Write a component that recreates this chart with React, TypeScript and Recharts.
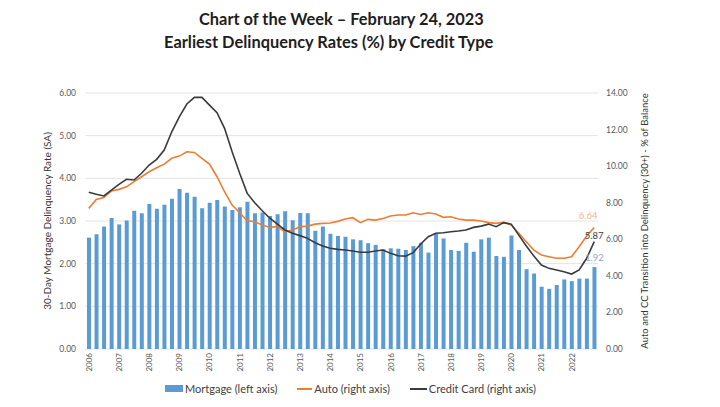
import {
  ComposedChart,
  Bar,
  Line,
  XAxis,
  YAxis,
  CartesianGrid,
  LabelList
} from 'recharts';

const years = [2006, 2007, 2008, 2009, 2010, 2011, 2012, 2013, 2014, 2015, 2016, 2017, 2018, 2019, 2020, 2021, 2022];
const quarterNames = ['Q1', 'Q2', 'Q3', 'Q4'];
const quarters = years.flatMap((y) => quarterNames.map((q) => `${y} ${q}`));

// 30-day mortgage delinquency rate, left axis
const mortgage = [
  2.61, 2.69, 2.87, 3.07, 2.92, 3.01, 3.24, 3.18, 3.40, 3.29, 3.38, 3.52,
  3.75, 3.66, 3.57, 3.30, 3.43, 3.49, 3.34, 3.26, 3.32, 3.45, 3.18, 3.20,
  3.12, 3.16, 3.23, 3.02, 3.19, 3.18, 2.77, 2.87, 2.70, 2.65, 2.63, 2.57,
  2.55, 2.48, 2.44, 2.34, 2.36, 2.35, 2.32, 2.41, 2.49, 2.26, 2.71, 2.59,
  2.32, 2.30, 2.49, 2.28, 2.57, 2.61, 2.18, 2.16, 2.66, 2.32, 1.87, 1.77,
  1.46, 1.41, 1.50, 1.63, 1.59, 1.65, 1.65, 1.92
];

// auto transition into delinquency, right axis
const auto = [
  7.69, 8.18, 8.29, 8.64, 8.73, 8.87, 9.15, 9.42, 9.69, 9.91, 10.11, 10.43,
  10.55, 10.79, 10.75, 10.43, 10.11, 9.42, 8.60, 7.87, 7.45, 7.01, 6.96, 6.78,
  6.65, 6.69, 6.41, 6.51, 6.69, 6.72, 6.83, 6.87, 6.89, 6.98, 7.11, 7.18,
  6.91, 7.09, 7.05, 7.14, 7.27, 7.33, 7.33, 7.45, 7.36, 7.45, 7.38, 7.20,
  7.23, 7.11, 7.05, 7.05, 7.00, 6.91, 6.87, 6.93, 6.78, 6.33, 5.87, 5.41,
  5.14, 5.05, 4.96, 4.96, 5.05, 5.59, 6.18, 6.64
];

// credit card transition into delinquency, right axis
const creditCard = [
  8.57, 8.46, 8.37, 8.69, 9.00, 9.28, 9.24, 9.61, 10.06, 10.37, 10.88, 11.88,
  12.70, 13.40, 13.76, 13.76, 13.34, 12.92, 12.07, 10.79, 9.61, 8.51, 8.00, 7.56,
  7.15, 6.83, 6.51, 6.33, 6.20, 6.05, 5.81, 5.63, 5.51, 5.45, 5.41, 5.36,
  5.29, 5.29, 5.36, 5.41, 5.23, 5.10, 5.08, 5.27, 5.74, 6.14, 6.33, 6.36,
  6.41, 6.45, 6.51, 6.65, 6.72, 6.83, 6.69, 6.91, 6.83, 6.23, 5.63, 5.08,
  4.59, 4.41, 4.32, 4.23, 4.10, 4.32, 4.96, 5.87
];

const leftTicks = [0, 1, 2, 3, 4, 5, 6];
const rightTicks = [0, 2, 4, 6, 8, 10, 12, 14];

const data = quarters.map((q, i) => ({
  q,
  mortgage: mortgage[i],
  auto: auto[i],
  cc: creditCard[i],
}));

const FONT = 'Lato, "Open Sans", sans-serif';
const BLUE = '#5B9BD5';
const ORANGE = '#ED7D31';
const DARK = '#3A3A3A';

function YearTick(props: any) {
  const { x, y, payload } = props;
  return (
    <text
      x={x}
      y={y}
      transform={`rotate(-90, ${x}, ${y})`}
      textAnchor="end"
      dominantBaseline="central"
      fontSize={8}
      fill="#595959"
      fontFamily={FONT}
    >
      {String(payload.value).slice(0, 4)}
    </text>
  );
}

// only the last point of each series gets a value label
function endLabel(color: string, dx: number, dy: number) {
  return (props: any) => {
    const { x, y, width, index, value } = props;
    if (index !== quarters.length - 1) return null;
    const cx = x + (width ? width / 2 : 0);
    return (
      <text x={cx + dx} y={y + dy} textAnchor="middle" fontSize={9.5} fill={color} fontFamily={FONT}>
        {Number(value).toFixed(2)}
      </text>
    );
  };
}

export default function App() {
  return (
    <div style={{ position: 'absolute', left: 0, top: 0, width: 720, height: 407, background: '#fff', fontFamily: FONT }}>
      <div style={{ position: 'absolute', left: 199, top: 9, fontSize: 16.4, fontWeight: 700, color: '#1e1e1e', whiteSpace: 'nowrap' }}>
        Chart of the Week – February 24, 2023
      </div>
      <div style={{ position: 'absolute', left: 164, top: 32, fontSize: 16.4, fontWeight: 700, color: '#1e1e1e', whiteSpace: 'nowrap' }}>
        Earliest Delinquency Rates (%) by Credit Type
      </div>
      <ComposedChart
        width={720}
        height={407}
        data={data}
        margin={{ top: 93, right: 62, bottom: 28, left: 29 }}
        barSize={4}
      >
        <CartesianGrid yAxisId="left" vertical={false} stroke="#E3E3E3" />
        <XAxis
          dataKey="q"
          interval={3}
          axisLine={false}
          tickLine={false}
          tickSize={0}
          tickMargin={4}
          height={30}
          tick={<YearTick />}
        />
        <YAxis
          yAxisId="left"
          domain={[0, 6]}
          ticks={leftTicks}
          width={56}
          axisLine={false}
          tickLine={false}
          tickSize={0}
          tickMargin={9}
          tickFormatter={(v: number) => v.toFixed(2)}
          tick={{ fontSize: 8.5, fill: '#595959', fontFamily: FONT }}
          label={{
            value: '30-Day Mortgage Delinquency Rate (SA)',
            angle: -90,
            position: 'insideLeft',
            offset: 18,
            style: { textAnchor: 'middle', fontSize: 10, fill: '#333', fontFamily: FONT },
          }}
        />
        <YAxis
          yAxisId="right"
          orientation="right"
          domain={[0, 14]}
          ticks={rightTicks}
          width={60}
          axisLine={false}
          tickLine={false}
          tickSize={0}
          tickMargin={8}
          tickFormatter={(v: number) => v.toFixed(2)}
          tick={{ fontSize: 8.5, fill: '#595959', fontFamily: FONT }}
          label={{
            value: 'Auto and CC Transition into Delinquency (30+) - % of Balance',
            angle: -90,
            position: 'insideRight',
            offset: 13,
            style: { textAnchor: 'middle', fontSize: 9.5, fill: '#333', fontFamily: FONT },
          }}
        />
        <Bar yAxisId="left" dataKey="mortgage" fill={BLUE} isAnimationActive={false}>
          <LabelList dataKey="mortgage" content={endLabel('#8FA9C9', 0, -6)} />
        </Bar>
        <Line
          yAxisId="right"
          dataKey="auto"
          stroke={ORANGE}
          strokeWidth={1.6}
          dot={false}
          isAnimationActive={false}
        >
          <LabelList dataKey="auto" content={endLabel('#F0B48A', -6, -9)} />
        </Line>
        <Line
          yAxisId="right"
          dataKey="cc"
          stroke={DARK}
          strokeWidth={1.6}
          dot={false}
          isAnimationActive={false}
        >
          <LabelList dataKey="cc" content={endLabel(DARK, 0, -3)} />
        </Line>
      </ComposedChart>
      <div
        style={{
          position: 'absolute',
          top: 382,
          left: 165,
          display: 'flex',
          alignItems: 'center',
          fontSize: 11,
          color: '#404040',
          whiteSpace: 'nowrap',
        }}
      >
        <span style={{ display: 'inline-block', width: 18, height: 7, background: BLUE, marginRight: 2 }} />
        <span style={{ marginRight: 20 }}>Mortgage (left axis)</span>
        <span style={{ display: 'inline-block', width: 15, height: 2, background: ORANGE, marginRight: 2 }} />
        <span style={{ marginRight: 20 }}>Auto (right axis)</span>
        <span style={{ display: 'inline-block', width: 17, height: 2, background: DARK, marginRight: 2 }} />
        <span>Credit Card (right axis)</span>
      </div>
    </div>
  );
}
